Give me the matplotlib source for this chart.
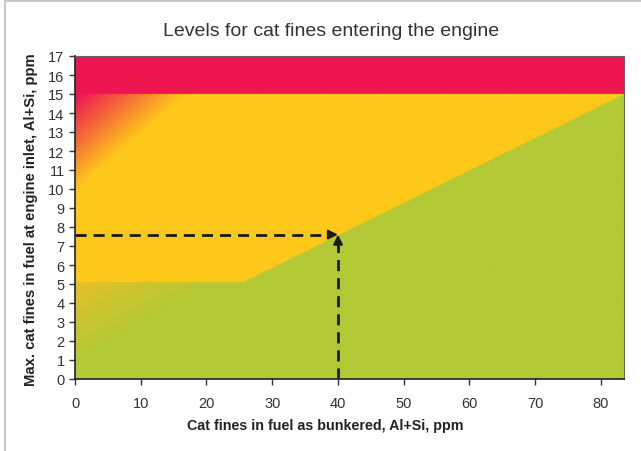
import numpy as np
import matplotlib.pyplot as plt
from matplotlib.lines import Line2D

plt.rcParams['font.family'] = ['Liberation Sans Narrow', 'Liberation Sans', 'DejaVu Sans']

# chart values
x_max = 83.5
y_max = 17
red_limit = 15
# yellow / green boundary
bound_x = [0, 25.6, 83.5]
bound_y = [5.1, 5.1, 15]
# example reading
example_x = 40
example_y = 7.6
x_ticks = [0, 10, 20, 30, 40, 50, 60, 70, 80]
y_ticks = list(range(0, 18))

red = np.array([238, 22, 81]) / 255
yellow = np.array([254, 200, 26]) / 255
green = np.array([179, 201, 53]) / 255
dark_yellow = np.array([230, 192, 40]) / 255

# build the coloured background
nx, ny = 900, 400
gx = np.linspace(0, x_max, nx)
gy = np.linspace(0, y_max, ny)
X, Y = np.meshgrid(gx, gy)
img = np.zeros((ny, nx, 3))

# yellow zone with red fade in top-left corner
s = Y - 0.3 * X
t = np.clip((s - 9.9) / 4.9, 0, 1)
img[:] = yellow * (1 - t[..., None]) + red * t[..., None]

# green zone with yellow fade towards the left
b = np.interp(X, bound_x, bound_y)
s2 = Y - 0.2 * X
t2 = np.clip((s2 - 0.8) / 4.3, 0, 1)
gimg = green * (1 - t2[..., None]) + dark_yellow * t2[..., None]
mask_g = Y < b
img[mask_g] = gimg[mask_g]

# red band on top
img[Y >= red_limit] = red

fig = plt.figure(figsize=(6.41, 4.52), dpi=100)
ax = fig.add_axes([75 / 641, 1 - 380 / 452, 549 / 641, 323 / 452])
ax.imshow(img, origin='lower', extent=[0, x_max, 0, y_max], aspect='auto',
          interpolation='bilinear')

# dashed reading lines
ax.plot([0, example_x - 1.3], [example_y, example_y], ls=(0, (4, 2.5)),
        color='#1a1a1a', lw=2)
ax.plot([example_x, example_x], [0, example_y - 0.55], ls=(0, (4, 2.5)),
        color='#1a1a1a', lw=2)
ax.annotate('', xy=(example_x, example_y), xytext=(example_x - 1.5, example_y),
            arrowprops=dict(arrowstyle='-|>', color='#1a1a1a', lw=1.5,
                            mutation_scale=14, shrinkA=0, shrinkB=0))
ax.annotate('', xy=(example_x, example_y), xytext=(example_x, example_y - 0.6),
            arrowprops=dict(arrowstyle='-|>', color='#1a1a1a', lw=1.5,
                            mutation_scale=14, shrinkA=0, shrinkB=0))

ax.set_xlim(0, x_max)
ax.set_ylim(0, y_max)
ax.set_xticks(x_ticks)
ax.set_yticks(y_ticks)
ax.tick_params(labelsize=10.5, colors='#333333', length=4, width=1)
ax.tick_params(axis='x', pad=8)
for side in ['left', 'bottom']:
    ax.spines[side].set_color('#222222')
    ax.spines[side].set_linewidth(1.2)
for side in ['top', 'right']:
    ax.spines[side].set_color('#666666')
    ax.spines[side].set_linewidth(0.8)

fig.text(325 / 641, 1 - 426 / 452, 'Cat fines in fuel as bunkered, Al+Si, ppm',
         ha='center', va='center', fontsize=10.3, fontweight='bold', color='#222222')
fig.text(31 / 641, 1 - 220 / 452, 'Max. cat fines in fuel at engine inlet, Al+Si, ppm',
         ha='center', va='center', rotation=90, fontsize=10.7, fontweight='bold',
         color='#222222')

fig.text(331 / 641, 1 - 32 / 452, 'Levels for cat fines entering the engine',
         ha='center', va='center', fontsize=14, color='#333333')

# frame lines at top and left of figure
fig.add_artist(Line2D([4.5 / 641, 4.5 / 641], [0, 1 - 2 / 452],
                      color='#c8c8c8', lw=1.5, transform=fig.transFigure))
fig.add_artist(Line2D([4.5 / 641, 1], [1 - 2 / 452, 1 - 2 / 452],
                      color='#c8c8c8', lw=1.5, transform=fig.transFigure))

plt.savefig('out.png', dpi=100)
